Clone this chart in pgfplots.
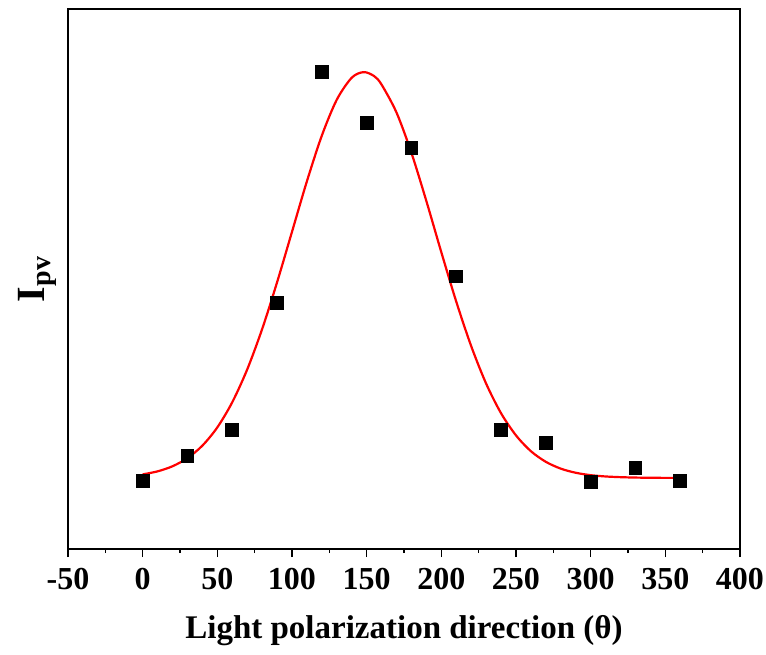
\documentclass[border=0pt]{standalone}
\usepackage{pgfplots}
\pgfplotsset{compat=1.18}
\usepackage{fontspec}
\setmainfont{Liberation Serif}
\usetikzlibrary{calc}
\begin{document}
\begin{tikzpicture}
\begin{axis}[name=ax,
  scale only axis, width=336pt, height=270pt,
  xmin=-50, xmax=400, ymin=0, ymax=539,
  xtick={-50,0,50,100,150,200,250,300,350,400},
  minor x tick num=1,
  ytick=\empty,
  axis line style={line width=1pt},
  every tick/.style={black, line width=0.8pt},
  tick align=outside,
  xtick pos=bottom,
  major tick length=4pt, minor tick length=2pt,
  /pgf/number format/assume math mode=true,
  ticklabel style={font=\fontsize{16}{18}\selectfont\bfseries},
  xticklabel style={yshift=-2pt},
  xlabel={Light polarization direction (θ)},
  xlabel style={font=\fontsize{16.5}{20}\selectfont\bfseries, yshift=-6pt},
  ylabel={I\textsubscript{pv}},
  ylabel style={font=\fontsize{20}{22}\selectfont\bfseries, yshift=-2pt},
]
\addplot[red, line width=1.1pt, smooth] coordinates {
(0,74.5) (10,77.5) (20,82.6) (30,90.7) (40,103.2) (50,121.4) (60,146.5) (70,179.2)
(80,219.5) (90,266.2) (100,316.6) (110,367.1) (120,412.7) (130,448.5) (140,470.4)
(148,476) (155,472) (160,463.5) (170,435.6) (180,395.3) (190,347.2) (200,296.2) (210,246.9)
(220,202.5) (230,165.1) (240,135.5) (250,113.4) (260,97.6) (270,87.0) (280,80.2)
(290,76.1) (300,73.7) (310,72.4) (320,71.7) (330,71.3) (340,71.1) (350,71.0) (360,71.0)
};
\addplot[only marks, mark=square*, mark size=3.2pt, black] coordinates {
(0,68) (30,93) (60,119) (90,246) (120,476) (150,425) (180,400)
(210,272) (240,119) (270,106) (300,67) (330,81) (360,68)
};
\end{axis}
\pgfresetboundingbox
\path ($(ax.south west)+(-34pt,-52.5pt)$) rectangle ($(ax.north east)+(13pt,4.5pt)$);
\end{tikzpicture}
\end{document}
